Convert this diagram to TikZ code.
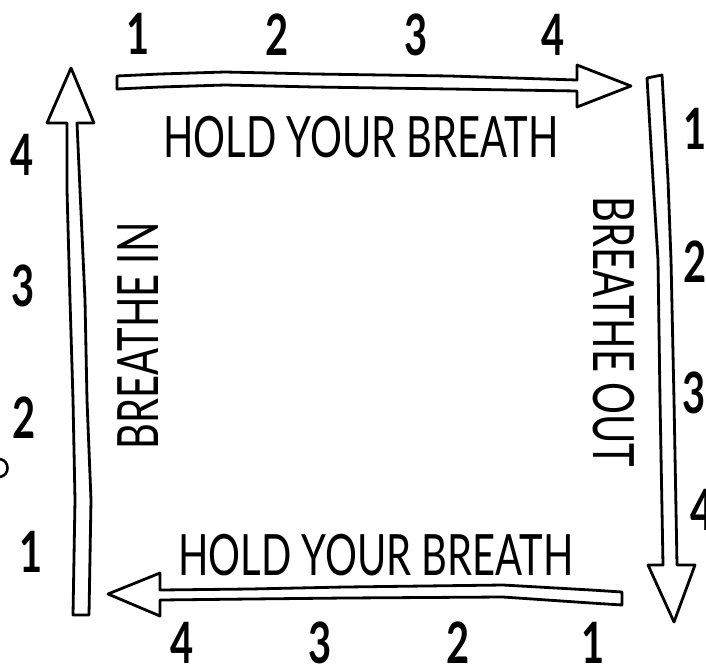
\documentclass[tikz,border=0pt]{standalone}
\usepackage{fontspec}
\newfontfamily\handfont{Lato}
\newfontfamily\numfont{Lato}[UprightFont={* Bold}]
\newcommand\hw[1]{\scalebox{0.70}[1]{#1}}
\newcommand\nw[1]{\scalebox{0.7}[1]{#1}}
\begin{document}
\begin{tikzpicture}[x=1pt,y=-1pt,
  arr/.style={draw=black,line width=2.8pt,line join=round,fill=white},
  lbl/.style={inner sep=0pt,font=\handfont\fontsize{57}{60}\selectfont},
  num/.style={inner sep=0pt,font=\numfont\fontsize{57}{60}\selectfont}]
\fill[white] (0,0) rectangle (706,670);
\useasboundingbox (0,0) rectangle (706,670);

% top arrow (left to right)
\draw[arr] (117,76) -- (160,74) -- (225,72) -- (315,74) -- (450,76) -- (577,80)
  -- (577,65) -- (631,86) -- (577,107) -- (577,91) -- (450,89) -- (315,87)
  -- (225,85) -- (160,87) -- (117,89) -- cycle;

% right arrow (top to bottom)
\draw[arr] (647,78) -- (662,75) -- (668,180) -- (671,260) -- (674,400) -- (677,565)
  -- (695,565) -- (674,622) -- (648,565) -- (663,565) -- (660,400) -- (658,260)
  -- (653,180) -- cycle;

% bottom arrow (right to left)
\draw[arr] (622,592) -- (591,590) -- (503,585) -- (345,587) -- (250,589) -- (160,590)
  -- (160,573) -- (108,594) -- (160,616) -- (160,600) -- (250,599) -- (345,598)
  -- (503,597) -- (591,603) -- (622,605) -- cycle;

% left arrow (bottom to top)
\draw[arr] (73,615) -- (75,500) -- (73,400) -- (70,300) -- (67,190) -- (67,123)
  -- (47,123) -- (71,68) -- (94,123) -- (77,123) -- (80,190) -- (85,300)
  -- (87,400) -- (91,500) -- (89,615) -- cycle;

% cut-off mark at the left edge
\draw[line width=2.6pt,line cap=round] (0,459) .. controls (10,461) and (10,475) .. (0,477);

% labels
\node[lbl] (holdtop) at (361,137) {\hw{HOLD YOUR BREATH}};
\node[lbl] (holdbot) at (376,555) {\hw{HOLD YOUR BREATH}};
\node[lbl,rotate=90] (bin) at (138,336) {\hw{BREATHE IN}};
\node[lbl,rotate=-90] (bout) at (614,332) {\hw{BREATHE OUT}};

% counts, top
\node[num] (t1) at (138,34) {\nw{1}};
\node[num] (t2) at (277,35) {\nw{2}};
\node[num] (t3) at (416,35) {\nw{3}};
\node[num] (t4) at (553,35) {\nw{4}};
% counts, right
\node[num] (r1) at (695,129) {\nw{1}};
\node[num] (r2) at (695,262) {\nw{2}};
\node[num] (r3) at (694,393) {\nw{3}};
\node[num] (r4) at (702,510) {\nw{4}};
% counts, bottom
\node[num] (b4) at (182,643) {\nw{4}};
\node[num] (b3) at (320,643) {\nw{3}};
\node[num] (b2) at (458,643) {\nw{2}};
\node[num] (b1) at (593,643) {\nw{1}};
% counts, left
\node[num] (l4) at (22,155) {\nw{4}};
\node[num] (l3) at (23,286) {\nw{3}};
\node[num] (l2) at (24,418) {\nw{2}};
\node[num] (l1) at (31,552) {\nw{1}};
\end{tikzpicture}
\end{document}
